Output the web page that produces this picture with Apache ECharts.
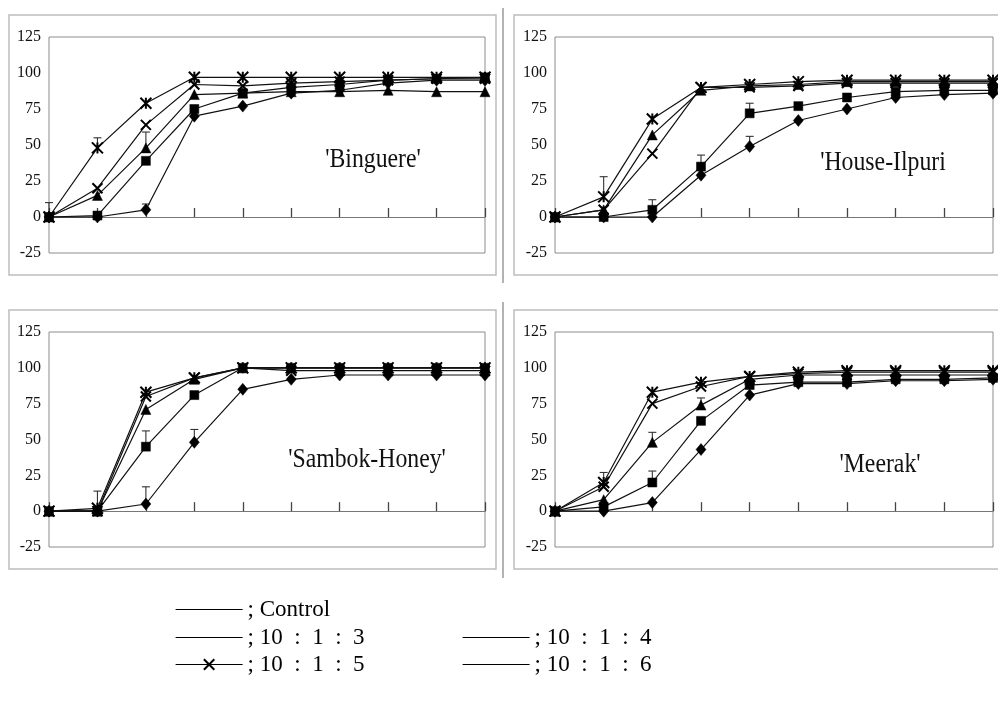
<!DOCTYPE html>
<html>
<head>
<meta charset="utf-8">
<script src="https://cdn.jsdelivr.net/npm/echarts@6/dist/echarts.min.js"></script>
<style>
html,body{margin:0;padding:0;background:#fff;}
#main{width:998px;height:702px;}
</style>
</head>
<body>
<div id="main"></div>
<script>
// ---- data ----
const days = ['1','2','3','4','5','6','7','8','9','10'];
const seriesNames = ['Control', '10 : 1 : 3', '10 : 1 : 4', '10 : 1 : 5', '10 : 1 : 6'];
const yTicks = [-25, 0, 25, 50, 75, 100, 125];
const panelTitles = ["'Binguere'", "'House-Ilpuri", "'Sambok-Honey'", "'Meerak'"];

const binguereControl = [0, 0, 5, 70, 77, 86, 88, 93, 95, 95];
const binguere1013 = [0, 1, 39, 75, 86, 90, 92, 95, 96, 97];
const binguere1014 = [0, 15, 48, 85, 86, 87, 87, 88, 87, 87];
const binguere1015 = [0, 20, 64, 92, 91, 93, 94, 95, 96, 96];
const binguere1016 = [0, 48, 79, 97, 97, 97, 97, 97, 97, 97];

const houseControl = [0, 0, 0, 29, 49, 67, 75, 83, 85, 86];
const house1013 = [0, 0, 5, 35, 72, 77, 83, 87, 88, 88];
const house1014 = [0, 5, 57, 88, 91, 92, 94, 94, 94, 94];
const house1015 = [0, 5, 44, 90, 90, 91, 93, 93, 93, 93];
const house1016 = [0, 14, 68, 90, 92, 94, 95, 95, 95, 95];

const sambokControl = [0, 0, 5, 48, 85, 92, 95, 95, 95, 95];
const sambok1013 = [0, 0, 45, 81, 100, 100, 100, 100, 100, 100];
const sambok1014 = [0, 0, 71, 92, 100, 100, 100, 100, 100, 100];
const sambok1015 = [0, 0, 80, 93, 100, 98, 98, 98, 98, 98];
const sambok1016 = [0, 2, 83, 93, 100, 100, 100, 100, 100, 100];

const meerakControl = [0, 0, 6, 43, 81, 89, 89, 91, 91, 92];
const meerak1013 = [0, 3, 20, 63, 88, 90, 90, 92, 92, 93];
const meerak1014 = [0, 8, 48, 74, 92, 95, 95, 95, 95, 95];
const meerak1015 = [0, 17, 75, 87, 94, 96, 97, 97, 97, 97];
const meerak1016 = [0, 20, 83, 90, 94, 97, 98, 98, 98, 98];

// error bars: [day index, mean, mean + error]
const errBinguere = [[0, 0, 10], [1, 48, 55], [2, 48, 59], [2, 5, 9]];
const errHouse = [[1, 14, 28], [2, 5, 12], [3, 35, 43], [4, 72, 79], [4, 49, 56]];
const errSambok = [[1, 2, 14], [2, 45, 56], [2, 5, 17], [3, 48, 57]];
const errMeerak = [[1, 20, 27], [2, 20, 28], [2, 48, 55], [3, 74, 79]];

const panels = [
  [binguereControl, binguere1013, binguere1014, binguere1015, binguere1016],
  [houseControl, house1013, house1014, house1015, house1016],
  [sambokControl, sambok1013, sambok1014, sambok1015, sambok1016],
  [meerakControl, meerak1013, meerak1014, meerak1015, meerak1016]
];
const panelErrors = [errBinguere, errHouse, errSambok, errMeerak];

// ---- layout / style ----
const gridBoxes = [
  {left: 49, top: 37, width: 436, height: 216},
  {left: 555, top: 37, width: 438, height: 216},
  {left: 49, top: 332, width: 436, height: 215},
  {left: 555, top: 332, width: 438, height: 215}
];
const frames = [
  {x: 9, y: 15, width: 487, height: 260},
  {x: 514, y: 15, width: 492, height: 260},
  {x: 9, y: 310, width: 487, height: 259},
  {x: 514, y: 310, width: 492, height: 259}
];
const titlePos = [[373, 160], [883, 163], [367, 460], [880, 465]];

const crossPath = 'path://M0,0 L10,10 M10,0 L0,10';
const starPath = 'path://M0,0 L10,10 M10,0 L0,10 M5,0 L5,10';
const symbols = ['diamond', 'rect', 'triangle', crossPath, starPath];
const symbolSizes = [[10, 12], 9, 10, 10, 11];
const serif = 'Liberation Serif';

const grids = gridBoxes.map(b => Object.assign({show: true, borderColor: '#8c8c8c', borderWidth: 1, backgroundColor: '#fff'}, b));
const xAxes = gridBoxes.map((b, i) => ({
  type: 'category', gridIndex: i, data: days, boundaryGap: false,
  axisLine: {onZero: true, lineStyle: {color: '#777', width: 1.2}},
  axisTick: {show: true, inside: true, length: 9, lineStyle: {color: '#444', width: 1.3}},
  axisLabel: {show: false}, splitLine: {show: false}
}));
const yAxes = gridBoxes.map((b, i) => ({
  type: 'value', gridIndex: i, min: yTicks[0], max: yTicks[yTicks.length - 1], interval: 25,
  axisLine: {show: false}, axisTick: {show: false}, splitLine: {show: false},
  axisLabel: {fontFamily: serif, fontSize: 16, color: '#111', margin: 8}
}));

const series = [];
panels.forEach((vals, p) => {
  series.push({
    type: 'custom', name: 'err' + p, xAxisIndex: p, yAxisIndex: p, z: 1,
    data: panelErrors[p],
    encode: {x: 0, y: [1, 2]},
    renderItem: function (params, api) {
      const a = api.coord([api.value(0), api.value(1)]);
      const b = api.coord([api.value(0), api.value(2)]);
      return {
        type: 'group',
        children: [
          {type: 'line', shape: {x1: a[0], y1: a[1], x2: b[0], y2: b[1]}, style: {stroke: '#333', lineWidth: 1.1}},
          {type: 'line', shape: {x1: b[0] - 4, y1: b[1], x2: b[0] + 4, y2: b[1]}, style: {stroke: '#333', lineWidth: 1.1}}
        ]
      };
    }
  });
  vals.forEach((arr, s) => {
    series.push({
      type: 'line', name: seriesNames[s], xAxisIndex: p, yAxisIndex: p, z: 3,
      data: arr, symbol: symbols[s], symbolSize: symbolSizes[s], showSymbol: true,
      lineStyle: {color: '#111', width: 1.2},
      itemStyle: {color: '#000', borderColor: '#000', borderWidth: s >= 3 ? 2 : 0.5},
      emphasis: {disabled: true}
    });
  });
});

const legendFmt = name => name === 'Control' ? '; Control' : '; ' + name.replace(/ : /g, '  :  ');
const legendRows = [
  {name: 'Control', left: 175, y: 605},
  {name: '10 : 1 : 3', left: 175, y: 633},
  {name: '10 : 1 : 5', left: 175, y: 660},
  {name: '10 : 1 : 4', left: 462, y: 633},
  {name: '10 : 1 : 6', left: 462, y: 660}
];
const legends = legendRows.map(r => ({
  left: r.left, top: r.y - 7, padding: 0, itemWidth: 67, itemHeight: 13,
  selectedMode: false,
  data: [{name: r.name, itemStyle: r.name === '10 : 1 : 5' ? {color: '#000', borderColor: '#000', borderWidth: 2} : {opacity: 0}}],
  lineStyle: {color: '#000', width: 1.2},
  formatter: legendFmt,
  textStyle: {fontFamily: serif, fontSize: 23, color: '#000'}
}));

const graphics = [];
frames.forEach(f => graphics.push({
  type: 'rect', silent: true, z: -10,
  shape: {x: f.x, y: f.y, width: f.width, height: f.height},
  style: {fill: 'none', stroke: '#bdbdbd', lineWidth: 1.5}
}));
graphics.push({type: 'line', silent: true, shape: {x1: 503, y1: 8, x2: 503, y2: 283}, style: {stroke: '#9a9a9a', lineWidth: 1.5}});
graphics.push({type: 'line', silent: true, shape: {x1: 503, y1: 302, x2: 503, y2: 578}, style: {stroke: '#9a9a9a', lineWidth: 1.5}});
panelTitles.forEach((t, i) => graphics.push({
  type: 'text', silent: true, z: 10, x: titlePos[i][0], y: titlePos[i][1], scaleX: 0.88,
  style: {text: t, x: 0, y: 0, textAlign: 'center', textVerticalAlign: 'middle', font: '27px "Liberation Serif"', fill: '#111'}
}));

const chart = echarts.init(document.getElementById('main'), null, {renderer: 'canvas'});
chart.setOption({
  animation: false,
  backgroundColor: '#fff',
  grid: grids,
  xAxis: xAxes,
  yAxis: yAxes,
  legend: legends,
  series: series,
  graphic: graphics
});
</script>
</body>
</html>
